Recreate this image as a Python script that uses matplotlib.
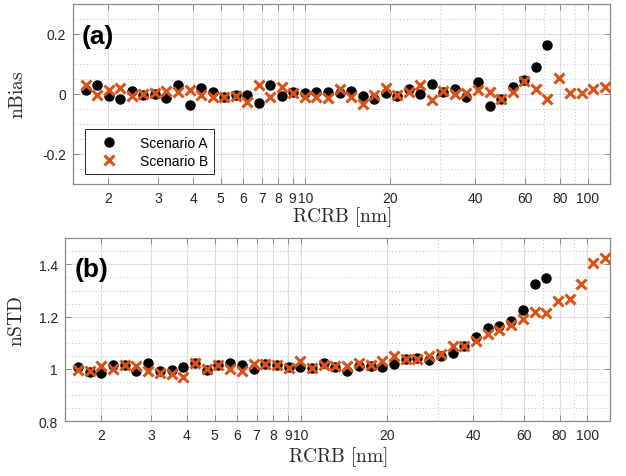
import matplotlib
matplotlib.use("Agg")
import matplotlib.pyplot as plt
from matplotlib.ticker import FixedLocator, NullFormatter, FixedFormatter

plt.rcParams['font.family'] = ['Liberation Sans', 'DejaVu Sans']
plt.rcParams['mathtext.fontset'] = 'cm'

# RCRB values [nm]
rcrb = [1.663, 1.828, 2.008, 2.207, 2.424, 2.664, 2.927, 3.216, 3.533, 3.882,
        4.265, 4.687, 5.149, 5.657, 6.216, 6.830, 7.503, 8.245, 9.058, 9.952,
        10.94, 12.02, 13.20, 14.51, 15.94, 17.51, 19.24, 21.13, 23.22, 25.51,
        28.04, 30.81, 33.85, 37.19, 40.87, 44.90, 49.32, 54.19, 59.54, 65.42,
        71.88, 78.98, 86.78, 95.35, 104.8, 115.1]

bias_A = [0.014, 0.029, -0.007, -0.017, 0.010, -0.003, -0.001, -0.013, 0.029, -0.038,
          0.019, 0.006, -0.009, -0.003, -0.003, -0.030, 0.029, -0.007, 0.008, 0.005,
          0.008, 0.007, 0.005, 0.010, -0.007, -0.016, 0.003, -0.005, 0.016, 0.000,
          0.032, 0.008, 0.017, -0.009, 0.039, -0.041, -0.015, 0.025, 0.048, 0.090,
          0.162]
bias_B = [0.029, -0.003, 0.014, 0.019, -0.007, 0.000, 0.002, 0.011, 0.008, 0.014,
          -0.003, -0.011, -0.009, -0.007, -0.026, 0.029, -0.009, 0.025, 0.005, -0.009,
          -0.009, -0.013, 0.018, -0.009, -0.032, -0.002, 0.020, -0.004, 0.007, 0.029,
          -0.021, 0.010, 0.000, 0.005, 0.014, 0.008, -0.017, 0.008, 0.045, 0.017,
          -0.018, 0.055, 0.005, 0.002, 0.017, 0.022]

std_A = [1.006, 0.987, 0.985, 1.015, 1.013, 0.990, 1.021, 0.990, 0.997, 1.006,
         1.021, 0.994, 1.013, 1.021, 1.015, 1.000, 1.019, 1.013, 1.006, 1.006,
         1.003, 1.023, 1.006, 0.992, 1.010, 1.010, 1.008, 1.017, 1.036, 1.040,
         1.035, 1.050, 1.061, 1.088, 1.122, 1.155, 1.164, 1.183, 1.227, 1.324,
         1.349]
std_B = [0.997, 0.990, 1.010, 1.000, 1.013, 1.010, 0.990, 0.985, 0.981, 0.968,
         1.021, 1.000, 1.013, 1.000, 0.990, 1.019, 1.019, 1.013, 1.003, 1.028,
         1.003, 1.015, 1.010, 1.010, 1.022, 1.013, 1.028, 1.049, 1.036, 1.039,
         1.050, 1.055, 1.086, 1.088, 1.107, 1.132, 1.149, 1.166, 1.192, 1.217,
         1.214, 1.261, 1.267, 1.324, 1.404, 1.425]

xticks = [2, 3, 4, 5, 6, 7, 8, 9, 10, 20, 40, 60, 80, 100]
xtick_labels = ['2', '3', '4', '5', '6', '7', '8', '9', '10', '20', '40', '60', '80', '100']
xminor = [30, 50, 70, 90]

orange = '#D95319'
spine_col = '#8a8a8a'
txt_col = '#262626'

fig = plt.figure(figsize=(6.26, 4.77), dpi=100)
ax1 = fig.add_axes([73/626, 1-185/477, 537/626, 180/477])
ax2 = fig.add_axes([65/626, 1-422/477, 545/626, 182.7/477])

def style(ax, yticks, ylabels, yminor, ylim):
    ax.set_xscale('log')
    ax.set_xlim(1.5, 120)
    ax.set_ylim(*ylim)
    ax.xaxis.set_major_locator(FixedLocator(xticks))
    ax.xaxis.set_major_formatter(FixedFormatter(xtick_labels))
    ax.xaxis.set_minor_locator(FixedLocator(xminor))
    ax.xaxis.set_minor_formatter(NullFormatter())
    ax.yaxis.set_major_locator(FixedLocator(yticks))
    ax.yaxis.set_major_formatter(FixedFormatter(ylabels))
    ax.yaxis.set_minor_locator(FixedLocator(yminor))
    ax.grid(True, which='major', color='#dedede', linewidth=0.8, linestyle='-')
    ax.grid(True, which='minor', color='#c4c4c4', linewidth=0.7, linestyle=(0, (1, 2.5)))
    ax.set_axisbelow(True)
    ax.tick_params(which='major', direction='in', top=True, right=True, length=4,
                   width=0.7, color=spine_col, labelsize=10, labelcolor=txt_col, pad=5)
    ax.tick_params(which='minor', length=0)
    for s in ax.spines.values():
        s.set_color(spine_col)
        s.set_linewidth(0.9)

# (a) nBias
ax1.plot(rcrb[:len(bias_A)], bias_A, 'o', color='black', markersize=6.5, label='Scenario A', zorder=3)
ax1.plot(rcrb[:len(bias_B)], bias_B, 'x', color=orange, markersize=7, markeredgewidth=2.2,
         label='Scenario B', zorder=4)
style(ax1, [-0.2, 0, 0.2], ['-0.2', '0', '0.2'],
      [-0.3, -0.25, -0.15, -0.1, -0.05, 0.05, 0.1, 0.15, 0.25, 0.3], (-0.3, 0.3))
ax1.set_xlabel(r'$\mathrm{RCRB\ [nm]}$', fontsize=14, color=txt_col)
ax1.set_ylabel(r'$\mathrm{nBias}$', fontsize=14, color=txt_col)
ax1.xaxis.set_label_coords(0.5, -0.115)
ax1.yaxis.set_label_coords(-0.085, 0.5)
ax1.text(0.016, 0.82, '(a)', transform=ax1.transAxes, fontsize=19, fontweight='bold',
         va='center', ha='left', color='black')
leg = ax1.legend(loc='lower left', bbox_to_anchor=(0.022, 0.056), borderaxespad=0,
                 fontsize=10, handlelength=2.6, handletextpad=0.9, fancybox=False,
                 framealpha=1, edgecolor='#262626', borderpad=0.45, labelspacing=0.3)
leg.get_frame().set_linewidth(0.7)

# (b) nSTD
ax2.plot(rcrb[:len(std_A)], std_A, 'o', color='black', markersize=6.5, zorder=3)
ax2.plot(rcrb[:len(std_B)], std_B, 'x', color=orange, markersize=7, markeredgewidth=2.2, zorder=4)
style(ax2, [0.8, 1.0, 1.2, 1.4], ['0.8', '1', '1.2', '1.4'],
      [0.85, 0.9, 0.95, 1.05, 1.1, 1.15, 1.25, 1.3, 1.35, 1.45, 1.5], (0.8, 1.5))
ax2.set_xlabel(r'$\mathrm{RCRB\ [nm]}$', fontsize=14, color=txt_col)
ax2.set_ylabel(r'$\mathrm{nSTD}$', fontsize=14, color=txt_col)
ax2.xaxis.set_label_coords(0.5, -0.125)
ax2.yaxis.set_label_coords(-0.072, 0.55)
ax2.text(0.018, 0.832, '(b)', transform=ax2.transAxes, fontsize=19, fontweight='bold',
         va='center', ha='left', color='black')

fig.savefig('out.png', dpi=100)
